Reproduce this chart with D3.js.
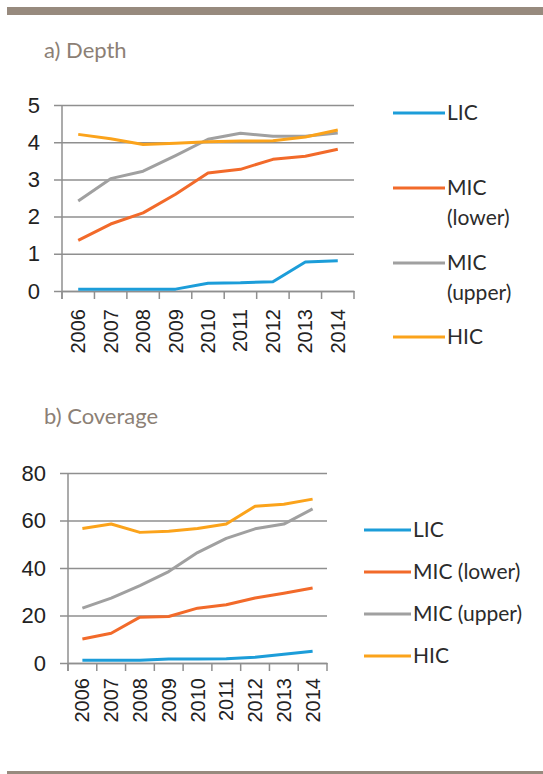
<!DOCTYPE html>
<html lang="en">
<head>
<meta charset="utf-8">
<title>Depth and Coverage</title>
<script src="https://d3js.org/d3.v7.min.js"></script>
<style>
  body { margin: 0; background: #fff; }
  .tick text { fill: #222; font-family: "Liberation Sans", Arial, sans-serif; }
  .title { fill: #8c7f75; font-family: Lato, "Open Sans", sans-serif; font-size: 22px; }
  .legend text { fill: #2b2b2b; font-family: Lato, "Open Sans", sans-serif; font-size: 21px; }
</style>
</head>
<body>
<script>
// data
var years = ["2006", "2007", "2008", "2009", "2010", "2011", "2012", "2013", "2014"];
var groups = ["LIC", "MIC (lower)", "MIC (upper)", "HIC"];

var depthLIC   = [0.05, 0.05, 0.05, 0.05, 0.21, 0.22, 0.25, 0.78, 0.81];
var depthMICl  = [1.36, 1.8, 2.1, 2.6, 3.17, 3.27, 3.54, 3.62, 3.81];
var depthMICu  = [2.42, 3.02, 3.22, 3.64, 4.08, 4.24, 4.16, 4.16, 4.25];
var depthHIC   = [4.21, 4.09, 3.94, 3.97, 4.01, 4.03, 4.04, 4.14, 4.33];
var depthTicks = [0, 1, 2, 3, 4, 5];

var covLIC   = [1.2, 1.2, 1.2, 1.7, 1.7, 1.8, 2.4, 3.7, 4.9];
var covMICl  = [10.1, 12.5, 19.3, 19.6, 23.1, 24.5, 27.4, 29.4, 31.6];
var covMICu  = [23.1, 27.3, 32.6, 38.5, 46.5, 52.5, 56.5, 58.5, 64.9];
var covHIC   = [56.6, 58.5, 55.0, 55.5, 56.6, 58.5, 66.0, 66.8, 69.0];
var covTicks = [0, 20, 40, 60, 80];

var colors = ["#1c9dd9", "#f26a2a", "#a0a0a0", "#fba31b"];
var gridColor = "#8f8f8f";
var barColor = "#978a7e";

var W = 543, H = 774;
var svg = d3.select("body").append("svg").attr("width", W).attr("height", H);

// decorative rules top and bottom
svg.append("rect").attr("x", 7).attr("y", 7).attr("width", W - 7).attr("height", 8).attr("fill", barColor);
svg.append("rect").attr("x", 7).attr("y", 771).attr("width", W - 7).attr("height", 3).attr("fill", barColor);

function panel(p) {
  var x = d3.scaleBand().domain(years).range([p.x0, p.x1]);
  var y = d3.scaleLinear().domain([0, p.max]).range([p.y0, p.y1]);
  var g = svg.append("g");

  // title
  svg.append("text").attr("class", "title").attr("x", 44).attr("y", p.titleY).text(p.title);

  // horizontal gridlines (incl. small tick left of axis)
  g.append("g")
    .attr("transform", "translate(" + p.x1 + ",0)")
    .call(d3.axisLeft(y).tickValues(p.ticks).tickSize(p.x1 - p.x0 + 8).tickFormat(""))
    .call(a => a.select(".domain").remove())
    .selectAll("line").attr("stroke", gridColor).attr("stroke-width", 1.5);

  // y labels
  g.append("g")
    .attr("transform", "translate(" + p.x0 + ",0)")
    .call(d3.axisLeft(y).tickValues(p.ticks).tickSize(0).tickPadding(22).tickFormat(d3.format("d")))
    .call(a => a.select(".domain").remove())
    .selectAll("text").style("font-size", "22px");

  // vertical axis line
  g.append("line")
    .attr("x1", p.x0).attr("x2", p.x0)
    .attr("y1", y(p.max)).attr("y2", p.y0 + 8)
    .attr("stroke", gridColor).attr("stroke-width", 1.5);

  // x axis: boundary ticks
  var bounds = years.map(d => x(d)).concat([p.x1]);
  g.selectAll(".xb").data(bounds).enter().append("line")
    .attr("x1", d => d).attr("x2", d => d)
    .attr("y1", p.y0).attr("y2", p.y0 + 8)
    .attr("stroke", gridColor).attr("stroke-width", 1.5);

  // x labels
  g.append("g")
    .attr("transform", "translate(0," + p.y0 + ")")
    .call(d3.axisBottom(x).tickSize(0).tickPadding(0))
    .call(a => a.select(".domain").attr("stroke", gridColor).attr("stroke-width", 1.5))
    .selectAll("text")
      .style("font-size", "20px")
      .attr("text-anchor", "end")
      .attr("transform", "rotate(-90)")
      .attr("x", -p.labelGap)
      .attr("y", 0)
      .attr("dy", "0.35em");

  // series
  var line = d3.line().x((d, i) => x(years[i]) + x.bandwidth() / 2).y(d => y(d));
  p.series.forEach(function (s, i) {
    g.append("path")
      .attr("d", line(s))
      .attr("fill", "none")
      .attr("stroke", colors[i])
      .attr("stroke-width", 3)
      .attr("stroke-linejoin", "round");
  });

  // legend
  var lg = svg.append("g").attr("class", "legend");
  p.legendRows.forEach(function (ry, i) {
    lg.append("line")
      .attr("x1", p.lx1).attr("x2", p.lx2)
      .attr("y1", ry).attr("y2", ry)
      .attr("stroke", colors[i]).attr("stroke-width", 3);
    var t = lg.append("text").attr("x", p.lx2 + 2).attr("y", ry);
    var lines = p.wrap ? groups[i].split(" ") : [groups[i]];
    lines.forEach(function (s, k) {
      t.append("tspan").attr("x", p.lx2 + 2).attr("dy", k === 0 ? "0.35em" : 30).text(s);
    });
  });
}

panel({
  title: "a) Depth", titleY: 58,
  x0: 62, x1: 354, y0: 291, y1: 105, max: 5, ticks: depthTicks,
  labelGap: 18,
  series: [depthLIC, depthMICl, depthMICu, depthHIC],
  lx1: 393, lx2: 445, legendRows: [113, 188, 263, 337], wrap: true
});

panel({
  title: "b) Coverage", titleY: 424,
  x0: 68, x1: 327, y0: 663, y1: 473, max: 80, ticks: covTicks,
  labelGap: 15,
  series: [covLIC, covMICl, covMICu, covHIC],
  lx1: 364, lx2: 411, legendRows: [530, 572, 614, 656], wrap: false
});
</script>
</body>
</html>
